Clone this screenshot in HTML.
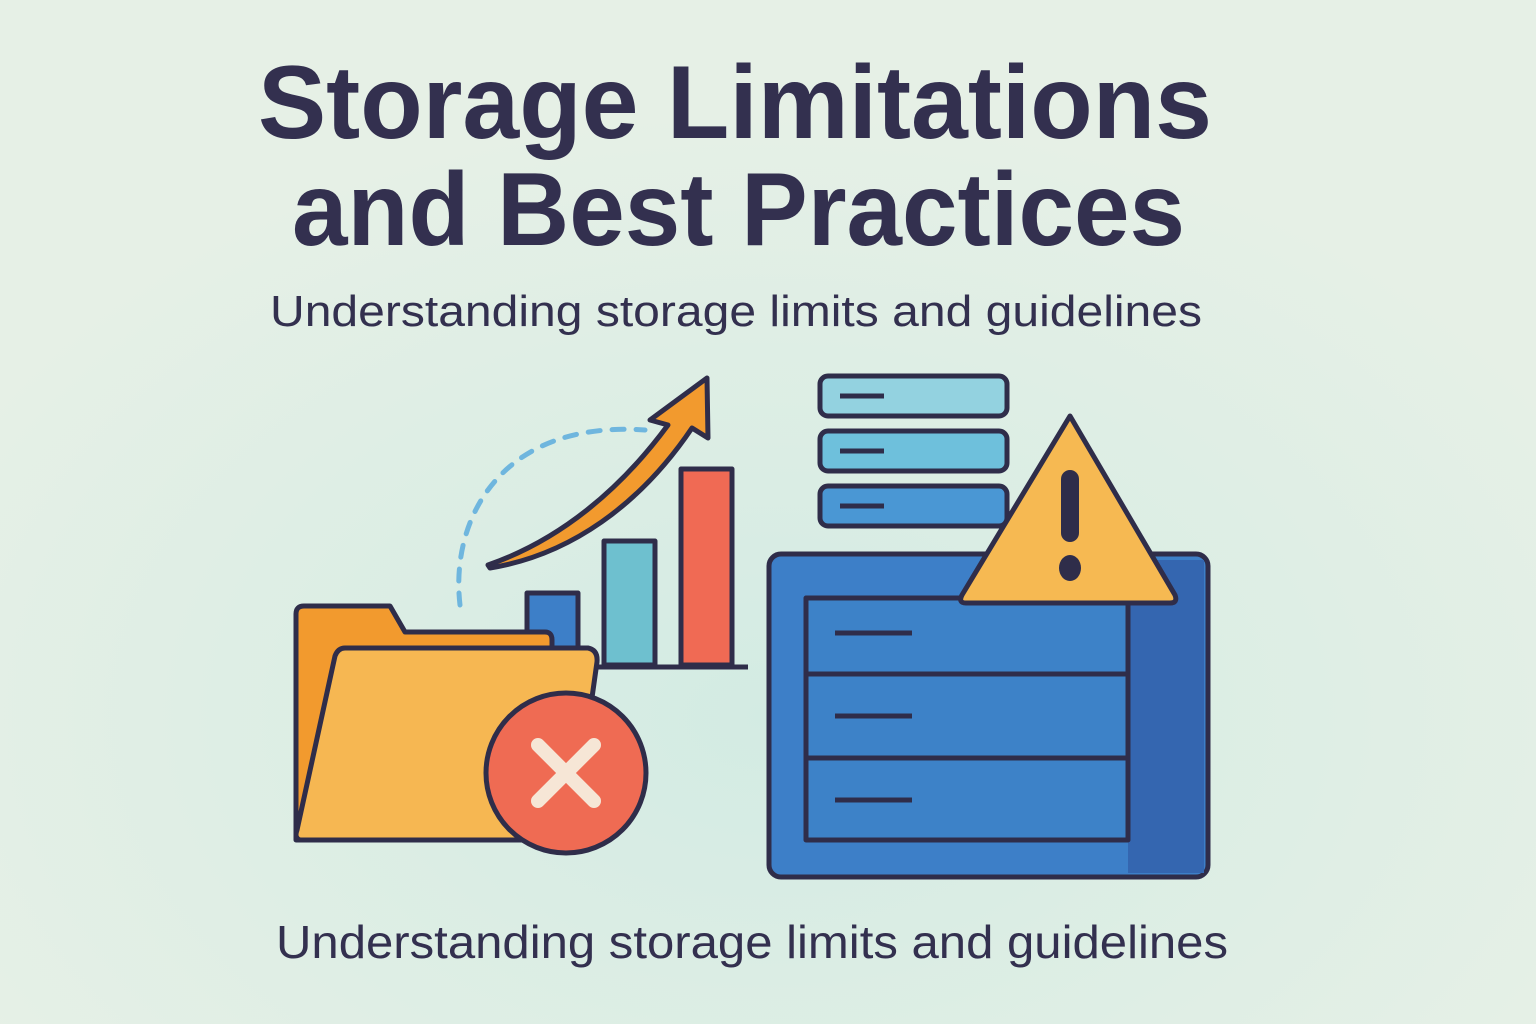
<!DOCTYPE html>
<html><head><meta charset="utf-8"><style>
html,body{margin:0;padding:0;background:#e4efe6;}
svg{display:block}
text{font-family:"Liberation Sans",sans-serif;fill:#33304f}
</style></head><body>
<svg width="1536" height="1024" viewBox="0 0 1536 1024">
<defs>
<radialGradient id="bg" cx="0.5" cy="0.7" r="0.6"><stop offset="0" stop-color="#d3ebe3"/><stop offset="1" stop-color="#e6f0e6"/></radialGradient>
</defs>
<rect width="1536" height="1024" fill="url(#bg)"/>
<text x="258" y="138" font-size="104" font-weight="bold" textLength="954" lengthAdjust="spacingAndGlyphs">Storage Limitations</text>
<text x="292" y="245" font-size="104" font-weight="bold" textLength="893" lengthAdjust="spacingAndGlyphs">and Best Practices</text>
<text x="270" y="326" font-size="44" textLength="932" lengthAdjust="spacingAndGlyphs">Understanding storage limits and guidelines</text>

<g stroke="#2f2d4a" stroke-width="5" stroke-linejoin="round">
<!-- dashed arc -->
<path d="M460 605 C450 520 500 420 645 430" fill="none" stroke="#6fb6de" stroke-width="5" stroke-dasharray="12 12" stroke-linecap="round"/>
<!-- arrow -->
<path d="M488 565 C560 540 620 490 668 425 L650 420 L707 378 L708 438 L692 428 C640 505 570 555 490 568 Z" fill="#f29a2e"/>
<g id="bars"></g>
<line x1="525" y1="667" x2="748" y2="667" stroke-width="5"/>
<!-- folder -->
<path d="M296 614 Q296 606 304 606 L390 606 L405 632 L545 632 Q552 632 552 640 L552 840 L296 840 Z" fill="#f29a2e"/>
<path d="M345 648 L588 648 Q598 650 597 662 L572 840 L300 840 Q294 838 297 830 L335 656 Q338 648 345 648 Z" fill="#f6b752" stroke="#2f2d4a"/>
<circle cx="566" cy="773" r="80" fill="#ef6b53"/>
<path d="M538 745 L594 801 M594 745 L538 801" stroke="#f6e6d6" stroke-width="14" stroke-linecap="round"/>
<!-- servers -->
<rect x="820" y="376" width="187" height="40" rx="8" fill="#93d2e0"/>
<rect x="820" y="431" width="187" height="40" rx="8" fill="#6ec0dc"/>
<rect x="820" y="486" width="187" height="40" rx="8" fill="#4a97d4"/>
<path d="M840 396 H884 M840 451 H884 M840 506 H884"/>
<!-- storage box -->
<rect x="769" y="554" width="439" height="323" rx="12" fill="#3d7fc8"/>
<rect x="1128" y="560" width="76" height="313" fill="#3466b0" stroke="none"/>
<rect x="806" y="598" width="322" height="242" fill="#3d82c8"/>
<path d="M806 674 H1128 M806 758 H1128"/>
<path d="M835 633 H912 M835 716 H912 M835 800 H912"/>
<path d="M1070 416 L1175 595 Q1178 603 1170 603 L966 603 Q958 603 962 595 Z" fill="#f6b952"/>
<rect x="1061" y="470" width="18" height="72" rx="9" fill="#2f2d4a" stroke="none"/>
<ellipse cx="1070" cy="568" rx="11" ry="13" fill="#2f2d4a" stroke="none"/>
</g>
<text x="276" y="958" font-size="46" textLength="952" lengthAdjust="spacingAndGlyphs">Understanding storage limits and guidelines</text>
</svg>
<script>
const barLabels=["small","medium","large"];
const barValues=[72,124,196];
const barColors=["#3d7fc8","#6ec0cf","#f06a54"];
const g=document.getElementById('bars');
const y=v=>665-v; const x=i=>527+i*77;
barValues.forEach((v,i)=>{
 const r=document.createElementNS('http://www.w3.org/2000/svg','rect');
 r.setAttribute('x',x(i));r.setAttribute('y',y(v));r.setAttribute('width',51);r.setAttribute('height',v);
 r.setAttribute('fill',barColors[i]);
 
 
 g.appendChild(r);
});
</script>
</body></html>
